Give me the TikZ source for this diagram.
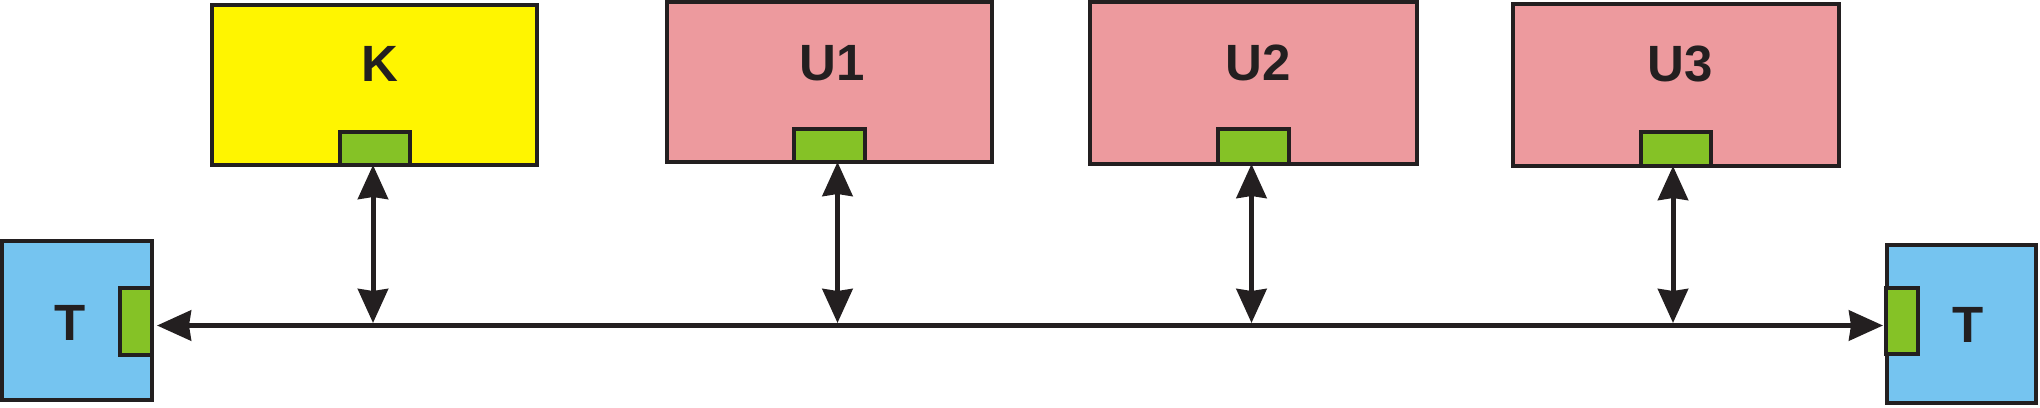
\documentclass[tikz,border=0pt]{standalone}
\usepackage{fontspec}
\setmainfont{Liberation Sans}
\usetikzlibrary{arrows.meta}
\definecolor{kyel}{HTML}{FFF500}
\definecolor{upink}{HTML}{ED9A9E}
\definecolor{tblue}{HTML}{75C4F0}
\definecolor{pgreen}{HTML}{85C226}
\definecolor{ink}{HTML}{231F20}
\tikzset{
  box/.style={draw=ink, line width=2pt, rectangle, inner sep=0pt, outer sep=0pt},
  lbl/.style={anchor=base, inner sep=0pt, text=ink, font=\fontsize{25.5}{28}\selectfont\bfseries},
  dart/.style={draw=ink, line width=2.5pt, {Stealth[length=17pt,width=15pt,inset=1pt]}-{Stealth[length=17pt,width=15pt,inset=1pt]}}
}
\begin{document}
\begin{tikzpicture}[x=0.5pt,y=-0.5pt]
\useasboundingbox (0,0) rectangle (2040,407);
% boxes
\node[box, fill=kyel, minimum width=162.5pt, minimum height=80pt] (K) at (374.5,85) {};
\node[box, fill=upink, minimum width=162.5pt, minimum height=80pt] (U1) at (829.5,82) {};
\node[box, fill=upink, minimum width=163.5pt, minimum height=81pt] (U2) at (1253.5,83) {};
\node[box, fill=upink, minimum width=163pt, minimum height=81pt] (U3) at (1676,85) {};
\node[box, fill=tblue, minimum width=75pt, minimum height=79.5pt] (TL) at (77,320.5) {};
\node[box, fill=tblue, minimum width=74.5pt, minimum height=79pt] (TR) at (1961.5,324) {};
% ports
\node[box, fill=pgreen, minimum width=35pt, minimum height=16.5pt] (pK) at (375,148.5) {};
\node[box, fill=pgreen, minimum width=35.5pt, minimum height=16.5pt] (pU1) at (829.5,145.5) {};
\node[box, fill=pgreen, minimum width=35.5pt, minimum height=17.5pt] (pU2) at (1253.5,146.5) {};
\node[box, fill=pgreen, minimum width=35pt, minimum height=17pt] (pU3) at (1676,149) {};
\node[box, fill=pgreen, minimum width=16pt, minimum height=33.5pt] (pTL) at (136,321.5) {};
\node[box, fill=pgreen, minimum width=16pt, minimum height=33pt] (pTR) at (1902,321) {};
% labels
\node[lbl] (tK) at (380,81.5) {K};
\node[lbl] (tU1) at (832,80.5) {U1};
\node[lbl] (tU2) at (1258,80.5) {U2};
\node[lbl] (tU3) at (1680.5,81) {U3};
\node[lbl] (tTL) at (70.5,340) {T};
\node[lbl] (tTR) at (1968.5,342.5) {T};
% bus
\coordinate (busL) at (157,325.5);
\coordinate (busR) at (1883,325.5);
\coordinate (busy) at (0,323);
\draw[dart] (busL) -- (busR);
% vertical connectors
\draw[dart] ([xshift=-1pt]pK.south) -- ([xshift=-1pt]pK.south |- busy);
\draw[dart] ([xshift=4pt]pU1.south) -- ([xshift=4pt]pU1.south |- busy);
\draw[dart] ([xshift=-1pt]pU2.south) -- ([xshift=-1pt]pU2.south |- busy);
\draw[dart] ([xshift=-1.5pt]pU3.south) -- ([xshift=-1.5pt]pU3.south |- busy);
\end{tikzpicture}
\end{document}
